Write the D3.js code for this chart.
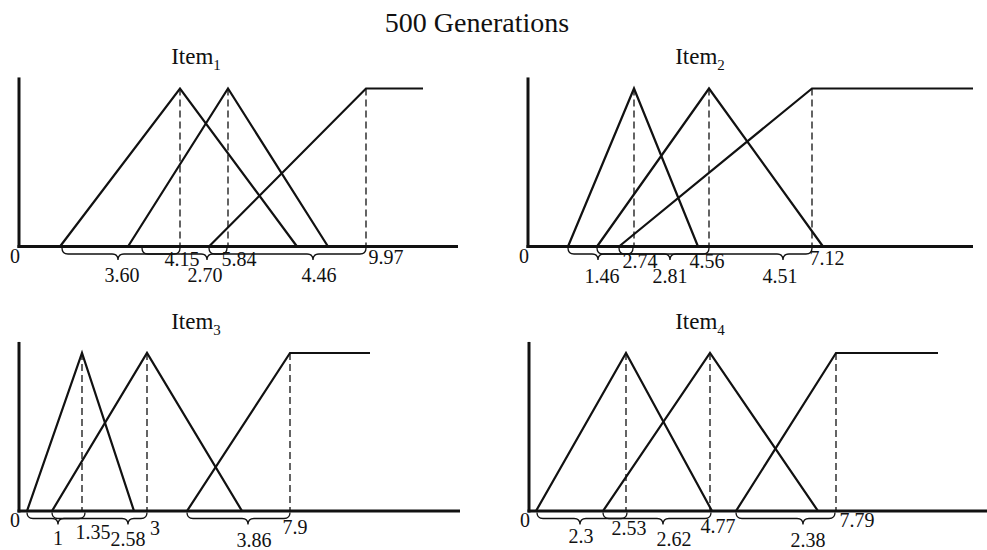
<!DOCTYPE html>
<html>
<head>
<meta charset="utf-8">
<script src="https://cdn.jsdelivr.net/npm/d3@7"></script>
<style>
  html, body { margin: 0; padding: 0; background: #fff; }
  svg { display: block; }
  text { font-family: "Liberation Serif", "Times New Roman", serif; fill: #111; }
</style>
</head>
<body>
<svg id="chart" width="987" height="550"></svg>
<script>
// ---------------- data (schematic drawing units along each axis) ----------------
const title = "500 Generations";
const itemNames = ["1", "2", "3", "4"];
const centerLabels = [["4.15", "5.84", "9.97"], ["2.74", "4.56", "7.12"], ["1.35", "3", "7.9"], ["2.53", "4.77", "7.79"]];
const spreadLabels = [["3.60", "2.70", "4.46"], ["1.46", "2.81", "4.51"], ["1", "2.58", "3.86"], ["2.3", "2.62", "2.38"]];

const leftFeet  = [[4.1, 10.9, 19.0], [4.0, 6.9, 9.1], [0.8, 3.3, 16.8], [0.7, 7.4, 20.7]];
const peaks     = [[16.1, 20.9, 34.7], [10.6, 18.1, 28.4], [6.3, 12.8, 27.1], [9.7, 18.1, 30.7]];
const rightFeet = [[27.8, 30.9], [17.0, 29.5], [11.5, 22.3], [18.3, 28.9]];
const shoulderEnds = [40.4, 44.5, 35.1, 40.9];
const axisEnds = [43.9, 44.5, 44.1, 45.8];

const braceStarts = [[4.3, 12.3, 19.0], [4.0, 6.9, 9.1], [0.8, 3.3, 16.8], [0.8, 7.4, 20.7]];
const braceEnds   = [[16.1, 20.8, 34.7], [10.5, 18.1, 28.4], [6.6, 12.8, 27.1], [9.8, 18.2, 30.6]];
const braceTips   = [[9.9, 18.8, 29.4], [7.0, 14.2, 25.5], [3.9, 10.9, 22.9], [5.1, 13.4, 27.4]];

// ---------------- layout ----------------
const panelOrigins = [[19, 246.5], [528, 246.5], [19, 511], [529, 511]];
const panelWidths = [439, 445, 441, 458];
const itemTitlePos = [[196, 64], [700, 64], [196, 329], [700, 329]];
const peakHeight = 158;   // px for membership 1
const yAxisTop = 1.07;    // membership units
const centerDx = [[2, 11, 20], [6, -2, 15], [11, 8, 5], [3, 8, 21]];
const centerDy = [[19, 19, 17], [21, 21, 18], [28, 24, 23], [24, 22, 16]];
const spreadDx = [[4, -2, 6], [4, 0, -3], [0, 0, 6], [1, 11, 5]];
const spreadDy = [[35, 35, 35], [36, 36, 36], [34, 35, 36], [32, 35, 36]];

const svg = d3.select("#chart");
const ink = "#111";

svg.append("text")
  .attr("x", 477).attr("y", 32)
  .attr("text-anchor", "middle")
  .style("font-size", "28px")
  .text(title);

itemNames.forEach((name, i) => {
  const [ox, oy] = panelOrigins[i];
  const x = d3.scaleLinear().domain([0, axisEnds[i]]).range([ox, ox + panelWidths[i]]);
  const y = d3.scaleLinear().domain([0, 1]).range([oy, oy - peakHeight]);
  const g = svg.append("g");

  // item title
  const t = g.append("text")
    .attr("x", itemTitlePos[i][0]).attr("y", itemTitlePos[i][1])
    .attr("text-anchor", "middle")
    .style("font-size", "23px");
  t.append("tspan").text("Item");
  t.append("tspan").attr("dy", 6).style("font-size", "15px").text(name);

  // axes
  g.append("line")
    .attr("x1", x(0)).attr("x2", x(0))
    .attr("y1", y(0) + 1.5).attr("y2", y(yAxisTop))
    .attr("stroke", ink).attr("stroke-width", 3);
  g.append("line")
    .attr("x1", x(0) - 1.5).attr("x2", x(axisEnds[i]))
    .attr("y1", y(0)).attr("y2", y(0))
    .attr("stroke", ink).attr("stroke-width", 3);

  // dashed center lines
  peaks[i].forEach(p => {
    g.append("line")
      .attr("x1", x(p)).attr("x2", x(p))
      .attr("y1", y(1)).attr("y2", y(0))
      .attr("stroke", ink).attr("stroke-width", 1.3)
      .attr("stroke-dasharray", "7,4");
  });

  // membership functions
  const line = d3.line().x(d => x(d[0])).y(d => y(d[1]));
  const shapes = [
    [[leftFeet[i][0], 0], [peaks[i][0], 1], [rightFeet[i][0], 0]],
    [[leftFeet[i][1], 0], [peaks[i][1], 1], [rightFeet[i][1], 0]],
    [[leftFeet[i][2], 0], [peaks[i][2], 1], [shoulderEnds[i], 1]]
  ];
  shapes.forEach(s => {
    g.append("path").attr("d", line(s))
      .attr("fill", "none").attr("stroke", ink)
      .attr("stroke-width", 2.2).attr("stroke-linejoin", "miter");
  });

  // braces
  const h = 6, d = 6, r = 6;
  braceStarts[i].forEach((b0, j) => {
    const x0 = x(b0), x1 = x(braceEnds[i][j]), xt = x(braceTips[i][j]);
    const y0 = y(0) + 1.5;
    const yl = y0 + h;
    const p = d3.path();
    p.moveTo(x0, y0);
    p.quadraticCurveTo(x0, yl, Math.min(x0 + r, xt), yl);
    p.lineTo(xt - r, yl);
    p.quadraticCurveTo(xt, yl, xt, yl + d);
    p.quadraticCurveTo(xt, yl, xt + r, yl);
    p.lineTo(Math.max(x1 - r, xt), yl);
    p.quadraticCurveTo(x1, yl, x1, y0);
    g.append("path").attr("d", p.toString())
      .attr("fill", "none").attr("stroke", ink).attr("stroke-width", 1.3);
  });

  // labels
  g.append("text")
    .attr("x", x(0) - 4).attr("y", y(0) + 16)
    .attr("text-anchor", "middle").style("font-size", "20px").text("0");
  centerLabels[i].forEach((lab, j) => {
    g.append("text")
      .attr("x", x(peaks[i][j]) + centerDx[i][j]).attr("y", y(0) + centerDy[i][j])
      .attr("text-anchor", "middle").style("font-size", "20px").text(lab);
  });
  spreadLabels[i].forEach((lab, j) => {
    g.append("text")
      .attr("x", x(braceTips[i][j]) + spreadDx[i][j]).attr("y", y(0) + spreadDy[i][j])
      .attr("text-anchor", "middle").style("font-size", "20px").text(lab);
  });
});
</script>
</body>
</html>
